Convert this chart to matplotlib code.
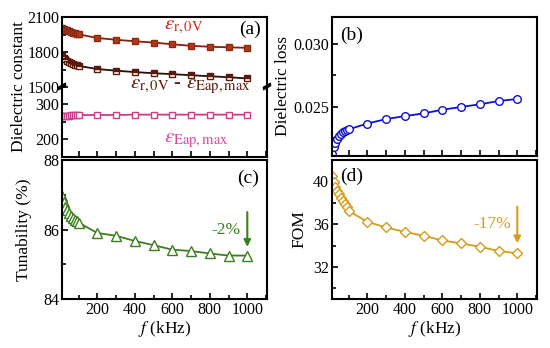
import matplotlib
matplotlib.use("Agg")
import matplotlib.pyplot as plt
from matplotlib.ticker import MultipleLocator

plt.rcParams["font.family"] = ["Liberation Serif", "DejaVu Serif"]
plt.rcParams["mathtext.fontset"] = "stix"
plt.rcParams["xtick.direction"] = "in"
plt.rcParams["ytick.direction"] = "in"

# frequency (kHz)
freq = [10, 20, 30, 40, 50, 60, 70, 80, 90, 100,
        200, 300, 400, 500, 600, 700, 800, 900, 1000]

# (a) dielectric constant
eps_0v = [2010, 2000, 1992, 1985, 1978, 1972, 1967, 1962, 1957, 1952,
          1920, 1905, 1892, 1881, 1866, 1853, 1845, 1840, 1836]
eps_diff = [1770, 1752, 1737, 1724, 1713, 1705, 1698, 1692, 1686, 1681,
            1654, 1640, 1628, 1618, 1610, 1601, 1592, 1584, 1573]
eps_eap = [266, 267, 267, 268, 268, 269, 269, 269, 270, 270,
           270, 270, 271, 271, 271, 271, 271, 271, 271]
# (b) dielectric loss
loss = [0.02125, 0.02178, 0.02215, 0.02242, 0.02265, 0.02283, 0.02298,
        0.02308, 0.02316, 0.02320,
        0.02367, 0.02402, 0.02426, 0.02447, 0.02476, 0.02498, 0.02519,
        0.02545, 0.02561]
# (c) tunability (%)
tun = [86.97, 86.80, 86.66, 86.55, 86.47, 86.40, 86.33, 86.28, 86.24, 86.20,
       85.90, 85.82, 85.67, 85.55, 85.42, 85.38, 85.31, 85.25, 85.25]
# (d) FOM
fom = [40.5, 39.9, 39.45, 39.1, 38.8, 38.48, 38.17, 37.9, 37.6, 37.25,
       36.22, 35.69, 35.28, 34.91, 34.48, 34.2, 33.89, 33.49, 33.27]

W, H = 550, 348
fig = plt.figure(figsize=(W / 100, H / 100), dpi=100)


def box(l, t, r, b):
    return [l / W, 1 - b / H, (r - l) / W, (b - t) / H]


ax_au = fig.add_axes(box(62, 17, 267, 87))
ax_al = fig.add_axes(box(62, 87, 267, 157))
ax_b = fig.add_axes(box(332, 17, 537, 156))
ax_c = fig.add_axes(box(62, 160, 267, 299))
ax_d = fig.add_axes(box(332, 160, 537, 299))

for ax in [ax_au, ax_al, ax_b, ax_c, ax_d]:
    ax.set_xlim(12, 1105)
    ax.xaxis.set_major_locator(MultipleLocator(200))
    ax.xaxis.set_minor_locator(MultipleLocator(100))
    ax.tick_params(which="both", top=False, right=False, labelsize=11.5,
                   width=1.2, pad=2)
    ax.tick_params(which="major", length=4)
    ax.tick_params(which="minor", length=3)
    for s in ax.spines.values():
        s.set_linewidth(1.5)

# ---- (a) broken axis
c_mid, c_low = "#5a1a0c", "#cc3d8a"
ax_au.plot(freq, eps_0v, "-s", color="#8b1c10", lw=1.3, ms=5,
           mfc="#b03a18", mec="#8b2a10")
ax_au.plot(freq, eps_diff, "-s", color="#2a1008", lw=1.3, ms=5,
           fillstyle="top", mfc=c_mid, mfcalt="white", mec=c_mid)
ax_al.plot(freq, eps_eap, "-s", color=c_low, lw=1.3, ms=5,
           mfc="white", mec=c_low)
ax_al.patch.set_alpha(0)

ax_au.set_ylim(1500, 2100)
ax_au.set_yticks([1500, 1800, 2100])
ax_au.yaxis.set_minor_locator(MultipleLocator(150))
ax_au.spines["bottom"].set_visible(False)
ax_au.tick_params(axis="x", which="both", bottom=False, labelbottom=False)

ax_al.set_ylim(150, 350)
ax_al.set_yticks([200, 300])
ax_al.yaxis.set_minor_locator(MultipleLocator(50))
ax_al.spines["top"].set_visible(False)
ax_al.tick_params(axis="x", which="both", labelbottom=False)
ax_al.xaxis.set_major_locator(MultipleLocator(100))

# break marks
for xx in [0, 1]:
    for y0 in [0.97, 0.995]:
        ax_al.plot([xx - 0.015, xx + 0.015], [y0, y0 + 0.05],
                   transform=ax_al.transAxes, color="k", lw=1.5, clip_on=False)

ax_au.text(0.97, 0.82, "(a)", transform=ax_au.transAxes, ha="right",
           va="center", fontsize=14)
ax_au.text(0.50, 0.86, r"$\varepsilon_{\mathrm{r,0V}}$", transform=ax_au.transAxes,
           ha="left", va="center", fontsize=15, color="#d02a1e")
fig.text(130 / W, 1 - 86 / H,
         r"$\varepsilon_{\mathrm{r,0V}}$ - $\varepsilon_{\mathrm{Eap,max}}$",
         ha="left", va="center", fontsize=15, color="#5a1a0c", zorder=5)
ax_al.text(0.50, 0.24, r"$\varepsilon_{\mathrm{Eap,max}}$", transform=ax_al.transAxes,
           ha="left", va="center", fontsize=15, color="#e0479a")
fig.text(19 / W, 1 - 86 / H, "Dielectric constant", rotation=90,
         ha="center", va="center", fontsize=12.5)

# ---- (b)
c_b = "#1010d0"
ax_b.plot(freq, loss, "-o", color=c_b, lw=1.3, ms=5.5, mfc="white", mec=c_b)
ax_b.set_ylim(0.0211, 0.0321)
ax_b.set_yticks([0.025, 0.030])
ax_b.yaxis.set_minor_locator(MultipleLocator(0.0025))
ax_b.yaxis.set_major_formatter(plt.FormatStrFormatter("%.3f"))
ax_b.tick_params(axis="x", which="both", labelbottom=False)
ax_b.xaxis.set_major_locator(MultipleLocator(100))
ax_b.set_ylabel("Dielectric loss", fontsize=12.5, labelpad=2)
ax_b.text(0.04, 0.87, "(b)", transform=ax_b.transAxes, ha="left",
          va="center", fontsize=14)

# ---- (c)
c_c = "#3c7f1e"
ax_c.plot(freq, tun, "-^", color=c_c, lw=1.3, ms=6.5, mfc="white", mec=c_c)
ax_c.set_ylim(84, 88)
ax_c.set_yticks([84, 86, 88])
ax_c.yaxis.set_minor_locator(MultipleLocator(1))
ax_c.set_ylabel("Tunability (%)", fontsize=12.5, labelpad=8)
ax_c.set_xlabel(r"$f$ (kHz)", fontsize=12.5, labelpad=1)
ax_c.text(0.96, 0.87, "(c)", transform=ax_c.transAxes, ha="right",
          va="center", fontsize=14)
ax_c.annotate("", xy=(1000, 85.42), xytext=(1000, 86.58),
              arrowprops=dict(arrowstyle="-|>", color=c_c, lw=1.5,
                              mutation_scale=10))
ax_c.text(965, 85.98, "-2%", ha="right", va="center", fontsize=12.5, color=c_c)

# ---- (d)
c_d = "#d49b1e"
ax_d.plot(freq, fom, "-D", color=c_d, lw=1.3, ms=5.5, mfc="white", mec=c_d)
ax_d.set_ylim(29, 42)
ax_d.set_yticks([32, 36, 40])
ax_d.yaxis.set_minor_locator(MultipleLocator(2))
ax_d.set_ylabel("FOM", fontsize=12.5, labelpad=4)
ax_d.set_xlabel(r"$f$ (kHz)", fontsize=12.5, labelpad=1)
ax_d.text(0.04, 0.88, "(d)", transform=ax_d.transAxes, ha="left",
          va="center", fontsize=14)
ax_d.annotate("", xy=(1000, 33.95), xytext=(1000, 37.9),
              arrowprops=dict(arrowstyle="-|>", color=c_d, lw=1.5,
                              mutation_scale=10))
ax_d.text(965, 36.0, "-17%", ha="right", va="center", fontsize=12.5, color=c_d)

fig.savefig("out.png", dpi=100)
plt.close()
